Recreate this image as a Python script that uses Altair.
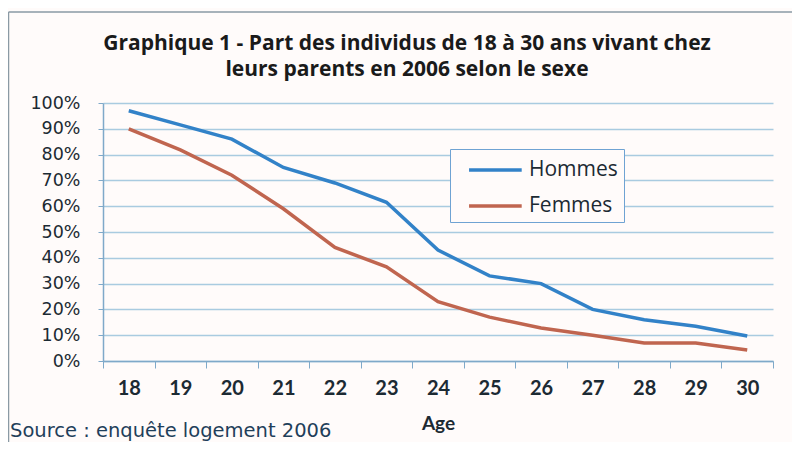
import altair as alt
import pandas as pd

ages = [18, 19, 20, 21, 22, 23, 24, 25, 26, 27, 28, 29, 30]
hommes = [0.97, 0.915, 0.86, 0.75, 0.69, 0.615, 0.43, 0.33, 0.30, 0.20, 0.16, 0.135, 0.097]
femmes = [0.90, 0.818, 0.72, 0.59, 0.44, 0.365, 0.23, 0.17, 0.128, 0.10, 0.07, 0.07, 0.043]
series = ["Hommes", "Femmes"]
colors = ["#3282c8", "#c0654f"]

title_line1 = "Graphique 1 - Part des individus de 18 à 30 ans vivant chez"
title_line2 = "leurs parents en 2006 selon le sexe"
source_text = "Source : enquête logement 2006"

rows = []
for a, h, f in zip(ages, hommes, femmes):
    rows.append({"Age": a, "Sexe": "Hommes", "Part": h})
    rows.append({"Age": a, "Sexe": "Femmes", "Part": f})
df = pd.DataFrame(rows)

W, H = 670, 258
BG = "#fffbfa"
TXT = "#1c2a33"

lines = alt.Chart(df).mark_line(strokeWidth=3.5).encode(
    x=alt.X("Age:O", title="Age",
            scale=alt.Scale(paddingInner=0, paddingOuter=0),
            axis=alt.Axis(labelAngle=0, labelFont="Lato", labelFontSize=20,
                          labelFontWeight="bold", labelColor=TXT,
                          tickBand="extent", tickSize=7, tickColor="#7fa9c9",
                          domainColor="#7fa9c9", domainWidth=1.5,
                          labelPadding=10, titleFont="Lato", titleFontSize=19,
                          titleFontWeight="bold", titleColor=TXT, titlePadding=16,
                          grid=False)),
    y=alt.Y("Part:Q", title=None,
            scale=alt.Scale(domain=[0, 1], nice=False),
            axis=alt.Axis(format=".0%", values=[i / 10 for i in range(11)],
                          labelFont="DejaVu Sans", labelFontSize=17.5, labelColor=TXT,
                          tickSize=5, tickColor="#7fa9c9", domainColor="#7fa9c9",
                          domainWidth=1.5, labelPadding=18,
                          grid=True, gridColor="#a9cbe0", gridWidth=1.3)),
    color=alt.Color("Sexe:N", title=None,
                    scale=alt.Scale(domain=series, range=colors),
                    legend=alt.Legend(orient="none", legendX=347, legendY=46,
                                      symbolType="M-0.15,0H3.9", symbolSize=676,
                                      symbolStrokeWidth=3.5, labelFont="Open Sans",
                                      labelFontSize=21, labelColor=TXT,
                                      labelOffset=43, rowPadding=11,
                                      padding=6, strokeColor="#6fa3d3",
                                      fillColor=BG)),
)

one = alt.Data(values=[{"k": 1}])
title1 = alt.Chart(one).mark_text(align="center", baseline="middle", font="Open Sans",
                                  fontSize=21, fontWeight="bold", color="#1a1a1a").encode(
    x=alt.value(304), y=alt.value(-59), text=alt.value(title_line1))
title2 = alt.Chart(one).mark_text(align="center", baseline="middle", font="Open Sans",
                                  fontSize=21, fontWeight="bold", color="#1a1a1a").encode(
    x=alt.value(304), y=alt.value(-33), text=alt.value(title_line2))

source = alt.Chart(one).mark_text(align="left", baseline="alphabetic",
                                  font="DejaVu Sans", fontSize=19.5, color="#1f3f5a").encode(
    x=alt.value(-93), y=alt.value(334), text=alt.value(source_text))

frame_left = alt.Chart(one).mark_rule(color="#8a9aa5", strokeWidth=1.5).encode(
    x=alt.value(-94.5), y=alt.value(-91), y2=alt.value(345))
frame_top = alt.Chart(one).mark_rule(color="#8a9aa5", strokeWidth=1.5).encode(
    x=alt.value(-94.5), x2=alt.value(700), y=alt.value(-91))

chart = alt.layer(frame_left, frame_top, lines, title1, title2, source).properties(
    width=W, height=H,
    autosize=alt.AutoSizeParams(type="none"),
    padding={"left": 95, "top": 95, "right": 19, "bottom": 81},
    background=BG,
).configure_view(stroke=None)

chart.save("out.html", embed_options={"renderer": "svg", "actions": False})
